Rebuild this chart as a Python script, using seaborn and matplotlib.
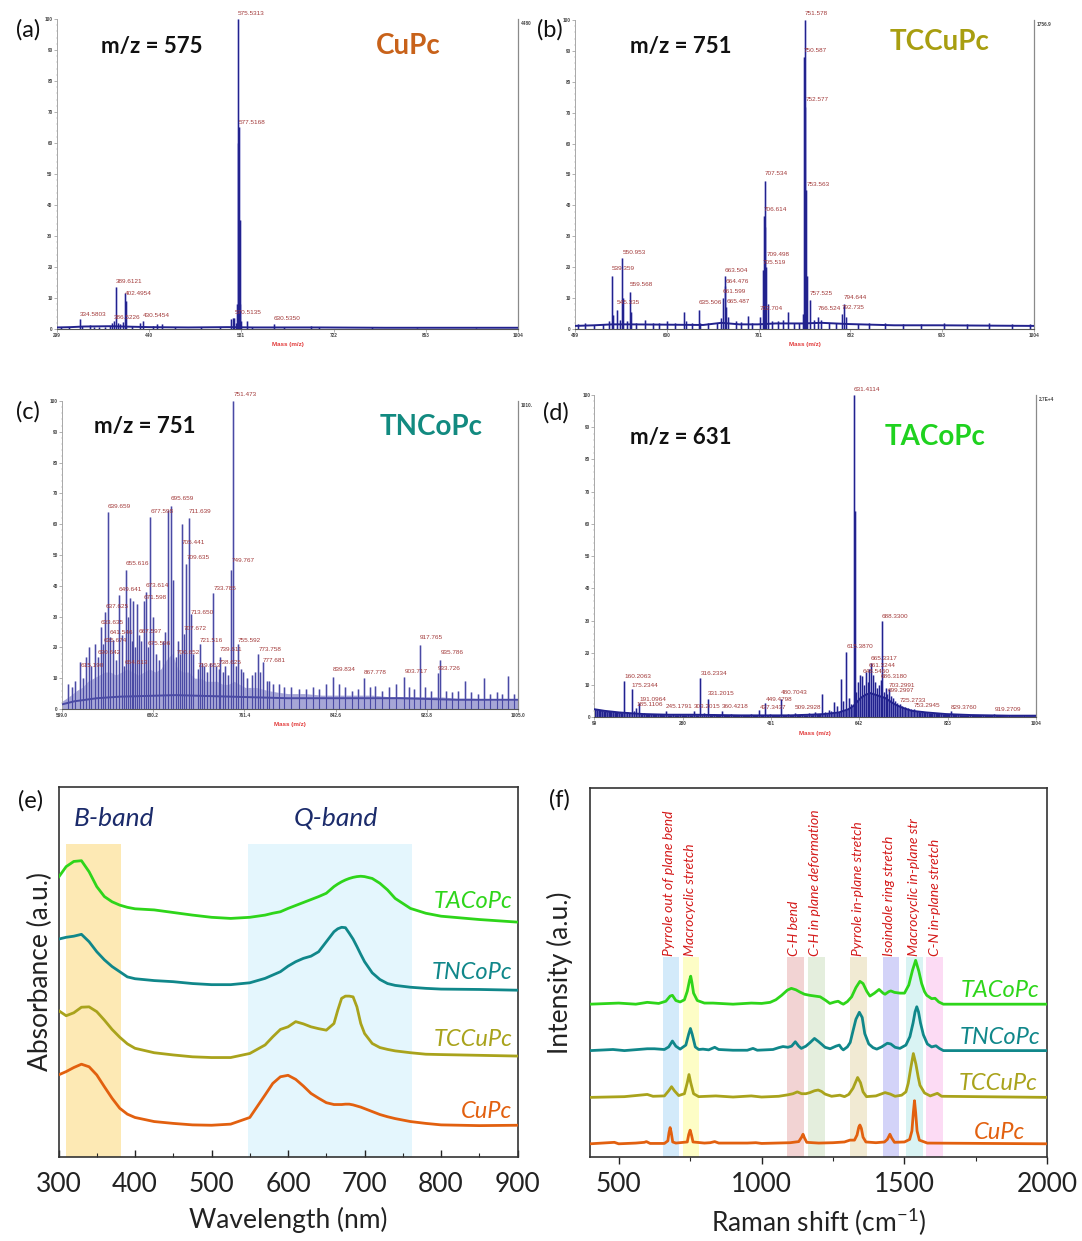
import numpy as np
import pandas as pd
import matplotlib
matplotlib.use("Agg")
import matplotlib.pyplot as plt
import seaborn as sns

sns.set_theme(style="white")
plt.rcParams['font.family'] = ['Lato', 'DejaVu Sans']
plt.rcParams['mathtext.default'] = 'regular'

W, H = 1082, 1241
fig = plt.figure(figsize=(W / 100, H / 100), dpi=100)


def fx(x):
    return x / W


def fy(y):
    return 1 - y / H


def axes_px(left, top, right, bottom):
    return fig.add_axes([left / W, 1 - bottom / H, (right - left) / W, (bottom - top) / H])


# ---------------------------------------------------------------- mass spectra data
ms_a_peaks = [(305.2, 0.8), (318.4, 0.6), (334.5803, 3.2), (338.0, 1.0), (349.5, 1.2), (356.0, 0.6),
              (364.0, 0.7), (372.0, 0.8), (380.5, 1.0), (384.0, 1.8), (386.5226, 2.5), (389.6121, 13.5),
              (392.0, 2.0), (396.0, 1.5), (399.5, 2.2), (402.4954, 11.6), (404.0, 9.0), (414.0, 1.0),
              (426.0, 1.8), (430.5454, 2.5), (446.0, 1.0), (452.0, 1.5), (459.5, 1.6), (480.0, 0.6),
              (520.0, 0.5), (548.0, 0.5), (565.5, 3.2), (568.0, 3.6), (570.5135, 3.4), (573.2, 2.0),
              (574.4, 8.0), (575.5313, 100.0), (576.5, 60.0), (577.5168, 65.0), (578.5, 35.0),
              (579.5, 8.0), (580.6, 2.5), (590.3, 2.5), (598.0, 0.8), (630.5350, 1.6), (646.0, 0.6),
              (688.0, 0.9), (700.0, 0.5), (780.0, 0.5), (850.0, 0.4), (940.0, 0.4)]
ms_a_base_mz = [299, 320, 340, 380, 400, 440, 500, 560, 600, 700, 800, 900, 1004]
ms_a_base_int = [0.5, 0.6, 0.8, 0.9, 0.8, 0.6, 0.5, 0.6, 0.5, 0.5, 0.4, 0.4, 0.4]
ms_a_labels = ['334.5803', '389.6121', '386.5226', '402.4954', '430.5454',
               '575.5313', '577.5168', '570.5135', '630.5350']
ms_a_label_y = [3.5, 14.2, 2.6, 10.2, 3.0, 100.5, 65.5, 4.2, 2.2]
ms_a_ticks = [299, 440, 581, 722, 863, 1004]

ms_b_peaks = [(502, 1.5), (510, 1.8), (520, 1.2), (530, 1.6), (536.5, 2.5), (539.359, 17.0), (541, 4.5),
              (545.335, 6.0), (548, 3.0), (550.953, 23.0), (552, 10.0), (556, 2.5), (559.568, 12.0),
              (561, 5.5), (566, 2.0), (576.0, 3.0), (585, 2.0), (591, 2.0), (600.5, 2.5), (609, 2.0),
              (618.7, 5.5), (621, 2.5), (628, 2.0), (635.506, 6.0), (637, 2.0), (645, 2.0), (655, 2.0),
              (659.5, 3.5), (661.599, 10.0), (663.504, 17.0), (664.476, 14.0), (665.487, 7.0), (667, 4.0),
              (676, 2.5), (682, 2.2), (689.2, 4.2), (694, 2.0), (702.704, 4.0), (705.519, 19.0),
              (706.614, 36.5), (707.534, 48.0), (708.5, 33.0), (709.498, 20.0), (711, 8.0), (716, 2.5),
              (722, 2.5), (728, 3.0), (733.3, 5.5), (740, 2.0), (745, 2.0), (749.6, 5.0), (750.587, 88.0),
              (751.578, 100.0), (752.577, 72.0), (753.563, 45.0), (754.5, 17.0), (757.525, 9.5), (762, 3.0),
              (766.524, 4.0), (770, 3.0), (778, 2.0), (786, 2.0), (792.735, 5.0), (794.644, 8.0), (797, 4.0),
              (810, 1.5), (822, 2.0), (840, 1.8), (860, 1.5), (880, 1.5), (905, 1.8), (930, 1.6),
              (955, 1.8), (980, 1.5), (1000, 1.5)]
ms_b_base_mz = [499, 520, 540, 560, 600, 640, 660, 680, 700, 720, 750, 770, 800, 850, 900, 950, 1004]
ms_b_base_int = [1.0, 1.2, 1.5, 1.5, 1.4, 1.3, 2.0, 1.5, 1.5, 1.8, 1.8, 2.0, 1.6, 1.2, 1.2, 1.1, 1.0]
ms_b_labels = ['539.359', '545.335', '550.953', '559.568', '635.506', '661.599', '663.504', '664.476',
               '665.487', '702.704', '705.519', '706.614', '707.534', '709.498', '750.587', '751.578',
               '752.577', '753.563', '757.525', '766.524', '792.735', '794.644']
ms_b_label_y = [18.3, 7.3, 23.5, 13.3, 7.3, 11.0, 17.7, 14.1, 7.7, 5.4, 20.3, 37.6, 49.0, 23.0,
                89.0, 101.0, 73.0, 45.6, 10.4, 5.4, 5.7, 8.9]
ms_b_ticks = [499, 600, 701, 802, 903, 1004]

ms_c_peaks = [(604, 8), (608, 7), (611, 9), (615.190, 15.4), (618, 10), (620.5, 17), (622.7, 20), (625, 14),
              (628.6, 21), (630.642, 17), (633.635, 26.7), (635.674, 21), (637.625, 31.6), (639.659, 64),
              (641.546, 23.5), (644.7, 22.4), (647, 16), (649.641, 37), (652, 24), (654.613, 14),
              (655.616, 45), (657.5, 30), (659.5, 36), (661, 22), (662.5, 35), (664, 20), (665.5, 34),
              (667.597, 24), (669.3, 22), (671.598, 35), (673.614, 38), (675.596, 20), (677.598, 62.4),
              (680.3, 30), (682.7, 18), (685.5, 16), (688.6, 22), (690.5, 25), (693.0, 64.6), (695.659, 66),
              (698.0, 42), (700.652, 17), (702.0, 22), (704.0, 18), (705.441, 60), (707.672, 24.5),
              (709.635, 47), (711.639, 62), (713.650, 31), (715.5, 18), (719.653, 13), (721.516, 21),
              (723.5, 15), (725.6, 14), (728, 12), (731, 15), (733.785, 37.6), (736, 14), (738.625, 13),
              (739.611, 17), (742, 12), (744.3, 14), (747, 11), (749.767, 45), (751.473, 100), (753.5, 14),
              (755.592, 21), (758, 13), (760, 12), (764, 10), (768, 11), (770.5, 12), (773.758, 18),
              (775.5, 12), (777.681, 15.4), (781, 9), (783.5, 9), (787, 8), (792, 8), (797, 7), (803, 7),
              (810, 6.5), (816, 6.5), (822, 7), (828, 6.5), (834, 8), (839.834, 10.5), (845.5, 8), (851, 7),
              (857, 6), (862, 6.5), (867.778, 10), (873, 7), (878, 7.5), (884, 6), (890, 7), (896, 8),
              (903.717, 10.5), (908, 7), (912, 6.5), (917.765, 20.8), (922, 7), (927, 6), (933.726, 11.7),
              (935.786, 15.9), (941, 6), (946, 5.5), (951, 6), (957.6, 9), (963, 5.5), (969, 5),
              (974.4, 10), (980, 5), (986, 5.5), (991, 5), (996, 10.7), (1001, 5)]
ms_c_grass_mz = [599, 603, 607, 612, 617, 622, 627, 632, 637, 642, 647, 652, 657, 662, 667, 672, 677, 682,
                 687, 692, 697, 702, 707, 712, 717, 722, 727, 732, 737, 742, 747, 752, 757, 762, 767, 772,
                 777, 782, 790, 800, 815, 830, 845, 860, 875, 890, 905, 920, 935, 950, 965, 980, 995, 1005]
ms_c_grass_int = [2.5, 3.5, 4.5, 6, 7, 9, 10, 11, 12, 12, 11, 12, 13, 12, 11, 12, 13, 12, 13, 16, 18, 13,
                  12, 12, 10, 10, 9, 9, 9, 8, 8, 9, 8, 7, 7, 7, 6.5, 6, 5.5, 5, 5, 4.5, 4.5, 4.5, 4.5, 4,
                  4, 4, 4, 3.5, 3.5, 3, 3, 3]
ms_c_floor_mz = [599, 610, 630, 650, 700, 750, 800, 850, 900, 950, 1005]
ms_c_floor_int = [1.5, 2.5, 3.5, 4.0, 4.5, 4.0, 3.5, 3.5, 3.5, 3.0, 3.0]
ms_c_labels = ['615.190', '630.642', '633.635', '635.674', '637.625', '639.659', '641.546', '649.641',
               '654.613', '655.616', '667.597', '671.598', '673.614', '675.596', '677.598', '695.659',
               '700.652', '705.441', '707.672', '709.635', '711.639', '713.650', '719.653', '721.516',
               '733.785', '738.625', '739.611', '749.767', '751.473', '755.592', '773.758', '777.681',
               '839.834', '867.778', '903.717', '917.765', '933.726', '935.786']
ms_c_label_y = [13.0, 17.0, 27.0, 21.0, 32.0, 64.5, 23.5, 37.5, 14.0, 46.0, 24.0, 35.0, 39.0, 20.0,
                63.0, 67.0, 17.0, 53.0, 25.0, 48.0, 63.0, 30.0, 13.0, 21.0, 38.0, 14.0, 18.0, 47.0,
                101.0, 21.0, 18.0, 14.5, 11.5, 10.5, 11.0, 22.0, 12.0, 17.0]
ms_c_ticks = [599.0, 680.2, 761.4, 842.6, 923.8, 1005.0]

ms_d_peaks = [(105, 2.2), (115, 2.0), (125, 1.6), (138, 2.0), (150, 1.4), (160.2063, 11.3), (165, 1.6),
              (170, 1.2), (175.2344, 8.8), (181, 1.8), (185.1106, 2.8), (191.0964, 4.3), (200, 1.2),
              (215, 1.0), (230, 1.0), (245.1791, 1.8), (260, 1.0), (275, 0.9), (290, 1.0), (303.2015, 1.8),
              (316.2334, 12.3), (324, 1.2), (331.2015, 5.7), (345, 1.0), (360.4218, 1.8), (380, 0.9),
              (400, 0.8), (420, 1.0), (437.3437, 2.3), (449.4798, 4.5), (460, 1.0), (480.7043, 5.6),
              (495, 0.9), (509.2928, 1.2), (525, 1.0), (540, 1.2), (552, 1.6), (566, 7.2), (572, 1.5),
              (579, 2.3), (585, 2.0), (590.5, 4.8), (597, 3.5), (603.6, 11.9), (609, 5.0), (615.3870, 20.4),
              (621, 6.0), (626, 4.0), (631.4114, 100.0), (632.6, 64.0), (636, 8), (640, 11), (644, 13),
              (648.5460, 12.9), (652, 10), (656, 14), (659, 11), (661.3244, 14.9), (665.3317, 16.8),
              (670, 13), (674, 11), (678, 9), (683, 10), (686.3180, 11.6), (688.3300, 30.0), (692, 8),
              (696, 9), (699.2997, 7.2), (703.2991, 8.8), (707, 6.5), (711, 6), (715, 5), (720, 4.5),
              (725.2733, 4.0), (730, 3.5), (736, 3.2), (742, 2.8), (748, 2.5), (753.2945, 2.6), (760, 2.0),
              (770, 1.8), (780, 1.6), (795, 1.4), (810, 1.2), (829.3760, 2.0), (845, 1.0), (870, 0.8),
              (895, 0.8), (919.2709, 1.0), (950, 0.6), (980, 0.6)]
ms_d_base_mz = [99, 120, 150, 200, 250, 300, 350, 400, 450, 500, 540, 570, 600, 620, 630, 636, 645, 655,
                665, 675, 685, 695, 705, 715, 730, 750, 780, 820, 870, 950, 1004]
ms_d_base_int = [2.5, 2.0, 1.5, 1.0, 0.8, 0.8, 0.7, 0.6, 0.6, 0.6, 0.8, 1.0, 1.5, 2.5, 3.5, 4.5, 6, 7,
                 7.5, 7, 6.5, 6, 5, 4, 3, 2, 1.5, 1.0, 0.7, 0.5, 0.5]
ms_d_labels = ['160.2063', '175.2344', '185.1106', '191.0964', '245.1791', '303.2015', '316.2334',
               '331.2015', '360.4218', '437.3437', '449.4798', '480.7043', '509.2928', '615.3870',
               '631.4114', '648.5460', '661.3244', '665.3317', '686.3180', '688.3300', '699.2997',
               '703.2991', '725.2733', '753.2945', '829.3760', '919.2709']
ms_d_label_y = [11.6, 8.8, 2.8, 4.3, 2.3, 2.1, 12.3, 6.2, 2.3, 2.0, 4.3, 6.4, 1.8, 20.9, 100.5, 13.0,
                14.9, 17.0, 11.6, 30.0, 7.2, 8.7, 4.1, 2.6, 2.0, 1.2]
ms_d_ticks = [99, 280, 461, 642, 823, 1004]

# ---------------------------------------------------------------- UV-vis data (absorbance, a.u.)
uv_nm = [300, 310, 320, 330, 340, 350, 360, 370, 380, 390, 400, 425, 450, 475, 500, 525, 550, 570, 580,
         590, 600, 610, 620, 630, 640, 650, 660, 665, 670, 675, 680, 685, 690, 695, 700, 710, 720, 730,
         740, 760, 780, 800, 850, 900]
uv_tacopc = [75.5, 78.4, 79.8, 80.0, 77.0, 73.0, 70.3, 68.9, 68.0, 67.4, 67.0, 66.7, 66.0, 65.3, 64.7,
             64.4, 64.7, 65.3, 65.8, 66.2, 67.1, 67.9, 68.7, 69.5, 70.3, 71.2, 73.0, 73.7, 74.3, 74.8,
             75.2, 75.5, 75.7, 75.8, 75.7, 75.2, 73.9, 72.1, 69.8, 67.1, 65.8, 65.0, 64.1, 63.4]
uv_tncopc = [58.8, 59.3, 59.6, 60.1, 58.1, 55.4, 53.2, 51.4, 50.0, 48.6, 48.1, 47.6, 47.3, 46.8, 46.5,
             46.5, 47.0, 48.2, 49.1, 50.0, 51.5, 52.7, 53.6, 54.2, 55.4, 58.1, 60.8, 61.6, 62.0, 61.9,
             60.4, 58.8, 56.8, 54.7, 52.7, 49.7, 47.9, 46.8, 46.3, 45.8, 45.5, 45.3, 45.2, 45.0]
uv_tccupc = [39.5, 38.1, 38.9, 40.4, 40.5, 39.2, 36.9, 34.4, 32.3, 30.5, 29.3, 28.1, 27.5, 27.0, 26.8,
             26.8, 27.9, 30.2, 32.4, 34.4, 35.1, 36.5, 35.9, 35.1, 34.6, 34.2, 36.0, 39.6, 42.8, 43.4,
             43.4, 43.2, 40.5, 36.0, 33.3, 30.6, 29.5, 29.0, 28.6, 28.1, 27.7, 27.6, 27.4, 27.2]
uv_cupc = [22.1, 23.0, 24.1, 25.0, 24.3, 22.1, 18.9, 15.8, 13.1, 11.5, 10.6, 9.5, 9.0, 8.6, 8.5, 8.8,
           10.6, 16.7, 19.8, 21.6, 22.0, 20.9, 19.1, 17.1, 15.8, 14.6, 14.1, 14.1, 14.1, 14.2, 14.2,
           14.0, 13.7, 13.4, 13.0, 12.2, 11.4, 10.8, 10.3, 9.5, 9.0, 8.6, 8.4, 8.5]

# ---------------------------------------------------------------- Raman data (cm-1, intensity a.u.)
raman_tacopc = [(400, 0), (500, 0.3), (560, 0), (600, 0.5), (640, 0.2), (665, 0.8), (680, 2.2), (688, 2.4),
                (700, 1.0), (715, 0.6), (730, 1.2), (740, 3.5), (748, 6.5), (752, 7.6), (756, 6.0),
                (762, 3.0), (775, 1.0), (800, 0.3), (830, 0.3), (900, 0.0), (964, 0.3), (1000, 0.2),
                (1030, 0.5), (1050, 1.2), (1070, 2.4), (1090, 3.8), (1104, 4.3), (1120, 3.9), (1134, 3.3),
                (1150, 2.7), (1169, 2.4), (1187, 2.2), (1205, 2.0), (1225, 1.0), (1239, 0.2), (1256, 0.6),
                (1268, 0.8), (1278, 0.3), (1286, 0.0), (1300, 0.7), (1315, 2.0), (1330, 4.5), (1344, 6.2),
                (1355, 5.6), (1368, 3.5), (1379, 2.2), (1395, 3.0), (1411, 4.0), (1425, 3.0), (1432, 2.7),
                (1445, 3.4), (1452, 3.6), (1465, 3.2), (1484, 3.0), (1500, 3.0), (1515, 5.2), (1528, 9.2),
                (1539, 11.9), (1550, 9.0), (1560, 5.6), (1570, 3.4), (1578, 2.4), (1595, 1.5), (1607, 1.6),
                (1620, 0.6), (1636, 0.0), (1700, 0.0), (2000, 0.0)]
raman_tncopc = [(400, 0), (480, 0.3), (520, 0), (600, 0.5), (625, 0.5), (660, 0.3), (675, 1.0), (688, 2.6),
                (700, 1.2), (715, 0.4), (735, 1.5), (745, 4.5), (751, 6.0), (757, 4.5), (768, 1.0),
                (780, 0.3), (795, 0.4), (815, 0.2), (836, 0.9), (850, 0.3), (900, 0.1), (950, 0.1),
                (970, 0.6), (985, 0.1), (1040, 0.3), (1060, 0.8), (1075, 1.1), (1092, 0.9), (1105, 1.2),
                (1118, 2.4), (1130, 1.2), (1139, 0.6), (1155, 1.2), (1170, 2.2), (1185, 3.3), (1200, 2.4),
                (1212, 1.6), (1222, 0.9), (1240, 0.5), (1260, 1.2), (1272, 1.5), (1280, 0.6), (1286, 0.2),
                (1300, 1.0), (1310, 2.2), (1320, 5.4), (1330, 8.5), (1342, 10.4), (1352, 9.0), (1361, 4.6),
                (1375, 1.8), (1390, 0.8), (1403, 0.4), (1420, 1.0), (1440, 2.0), (1452, 1.8), (1467, 0.9),
                (1484, 0.6), (1505, 1.5), (1519, 3.8), (1530, 7.5), (1537, 10.5), (1543, 11.9),
                (1549, 10.5), (1556, 7.5), (1566, 4.3), (1580, 1.8), (1595, 1.0), (1610, 1.3), (1622, 0.6),
                (1636, 0.0), (2000, 0.0)]
raman_tccupc = [(400, 0), (520, 0.2), (600, 0.8), (620, 0.3), (660, 0.4), (675, 1.8), (685, 2.9),
                (695, 1.8), (710, 0.5), (730, 1.0), (740, 4.0), (746, 6.2), (752, 4.0), (762, 1.0),
                (780, 0.2), (840, 0.4), (900, 0.1), (964, 0.4), (1000, 0.1), (1060, 0.3), (1092, 0.7),
                (1110, 1.0), (1125, 1.5), (1140, 1.0), (1155, 1.0), (1169, 1.3), (1185, 1.8), (1198, 2.0),
                (1210, 1.6), (1222, 0.9), (1245, 0.3), (1274, 0.6), (1290, 0.2), (1305, 0.8), (1320, 2.5),
                (1336, 5.4), (1346, 4.0), (1355, 1.5), (1367, 0.2), (1400, 0.4), (1432, 1.3), (1450, 0.9),
                (1467, 0.3), (1490, 0.6), (1505, 1.5), (1513, 3.8), (1522, 8.0), (1531, 11.9), (1540, 9.0),
                (1548, 5.5), (1554, 3.3), (1570, 1.2), (1590, 0.4), (1615, 1.1), (1630, 0.3), (2000, 0)]
raman_cupc = [(400, 0), (485, 0.4), (500, 0), (560, 0.2), (590, 0.4), (597, 0.6), (610, 0.1), (660, 0.1),
              (672, 0.8), (676, 3.0), (680, 4.4), (684, 3.0), (689, 0.5), (700, 0.2), (740, 0.5),
              (745, 2.5), (750, 3.7), (755, 2.3), (760, 0.5), (800, 0.2), (820, 0.3), (836, 0.6),
              (850, 0.2), (950, 0.2), (980, 0.3), (1000, 0.1), (1100, 0.3), (1130, 0.6), (1140, 1.8),
              (1145, 2.6), (1150, 1.6), (1158, 0.4), (1200, 0.2), (1250, 0.3), (1290, 0.5), (1309, 1.0),
              (1325, 1.0), (1334, 2.4), (1340, 4.5), (1344, 5.1), (1349, 4.2), (1355, 1.8), (1365, 0.5),
              (1400, 0.3), (1430, 0.5), (1440, 1.2), (1449, 2.6), (1455, 1.6), (1465, 0.4), (1500, 0.5),
              (1518, 1.2), (1526, 3.5), (1531, 8.5), (1535, 11.7), (1539, 8.5), (1544, 3.5), (1552, 1.0),
              (1580, 0.2), (2000, 0)]
raman_offsets = [41.4, 28.8, 16.1, 3.5]

raman_band_lo = [655, 724, 1089, 1162, 1309, 1424, 1505, 1575]
raman_band_hi = [711, 781, 1149, 1222, 1369, 1481, 1565, 1635]
raman_band_names = ['Pyrrole out of plane bend', 'Macrocyclic stretch', 'C-H bend',
                    'C-H in plane deformation', 'Pyrrole in-plane stretch', 'Isoindole ring stretch',
                    'Macrocyclic in-plane str', 'C-N in-plane stretch']
raman_band_label_x = [676, 751, 1114, 1186, 1337, 1446, 1533, 1606]

compounds = ['TACoPc', 'TNCoPc', 'TCCuPc', 'CuPc']

# ---------------------------------------------------------------- styles
col = {'TACoPc': '#2ed51a', 'TNCoPc': '#10878a', 'TCCuPc': '#a9a31c', 'CuPc': '#e2600f'}
title_col = {'TACoPc': '#1fd21f', 'TNCoPc': '#128a80', 'TCCuPc': '#a89e10', 'CuPc': '#c8621a'}
band_colors = ['#d3eafa', '#fdfdc6', '#f2d3d3', '#e4eedd', '#f1ead3', '#d3d3f8', '#d9f3f3', '#fcdbf4']
tiny = ['Liberation Sans', 'DejaVu Sans']


def mass_panel(ax, peaks, xlim, ticks, tick_labels, top_label, labels, label_y,
               base_mz=None, base_int=None, grass_mz=None, grass_int=None,
               core='#22228e', halo='#8c8cd2', fill_base=False):
    mz = [p[0] for p in peaks]
    inten = [p[1] for p in peaks]
    ax.set_xlim(*xlim)
    ax.set_ylim(0, 100)
    if grass_mz is not None:
        ax.fill_between(grass_mz, 0, grass_int, color='#a6a6d6', lw=0, zorder=1)
    if base_mz is not None:
        if fill_base:
            ax.fill_between(base_mz, 0, base_int, color=core, lw=0, zorder=2)
        sns.lineplot(x=base_mz, y=base_int, ax=ax, color=core, lw=1.4, zorder=3)
    ax.vlines(mz, 0, inten, color=halo, lw=2.0, alpha=0.55, zorder=2)
    ax.vlines(mz, 0, inten, color=core, lw=0.8, zorder=3)
    for txt, yv in zip(labels, label_y):
        ax.text(float(txt), yv + 0.4, txt, fontsize=4.6, color='#a23a3a', ha='left', va='bottom',
                family=tiny, zorder=5)
    ax.spines['top'].set_visible(False)
    ax.spines['left'].set_color('#9a9a9a')
    ax.spines['left'].set_linewidth(0.6)
    ax.spines['bottom'].set_color('#555555')
    ax.spines['bottom'].set_linewidth(0.8)
    ax.spines['right'].set_color('#8a8a8a')
    ax.spines['right'].set_linewidth(0.9)
    ax.set_yticks(range(0, 101, 10))
    ax.set_yticklabels([str(v) for v in range(0, 101, 10)], fontsize=3.4, fontweight='bold',
                       color='#444444', family=tiny)
    ax.set_yticks(range(0, 101, 2), minor=True)
    ax.set_xticks(ticks)
    ax.set_xticklabels(tick_labels, fontsize=3.4, fontweight='bold', color='#444444', family=tiny)
    ax.tick_params(axis='both', which='major', length=2, width=0.4, pad=1, color='#777777',
                   bottom=True, left=True)
    ax.tick_params(axis='y', which='minor', length=1, width=0.3, color='#999999', left=True)
    ax.set_xlabel('Mass (m/z)', fontsize=4.5, fontweight='bold', color='#e23a3a', labelpad=3,
                  family=tiny)
    ax.set_ylabel('')
    ax.text(1.006, 0.985, top_label, transform=ax.transAxes, fontsize=3.4, fontweight='bold',
            color='#444444', ha='left', va='center', family=tiny)
    ax.patch.set_alpha(0)


# (a) CuPc
ax_a = axes_px(56.8, 19, 518.2, 329)
mass_panel(ax_a, ms_a_peaks, (299, 1004), ms_a_ticks, [str(t) for t in ms_a_ticks], '4480',
           ms_a_labels, ms_a_label_y, base_mz=ms_a_base_mz, base_int=ms_a_base_int)
# (b) TCCuPc
ax_b = axes_px(575, 20, 1034, 329)
mass_panel(ax_b, ms_b_peaks, (499, 1004), ms_b_ticks, [str(t) for t in ms_b_ticks], '1756.9',
           ms_b_labels, ms_b_label_y, base_mz=ms_b_base_mz, base_int=ms_b_base_int)
# (c) TNCoPc
ax_c = axes_px(62, 401, 518.2, 709)
mass_panel(ax_c, ms_c_peaks, (599.0, 1005.0), ms_c_ticks, ['%.1f' % t for t in ms_c_ticks], '1010.',
           ms_c_labels, ms_c_label_y, base_mz=ms_c_floor_mz, base_int=ms_c_floor_int,
           grass_mz=ms_c_grass_mz, grass_int=ms_c_grass_int, core='#4a4aa4', halo='#a4a4d8')
# (d) TACoPc
ax_d = axes_px(594.4, 395, 1035.8, 717.3)
mass_panel(ax_d, ms_d_peaks, (99, 1004), ms_d_ticks, [str(t) for t in ms_d_ticks], '2.7E+4',
           ms_d_labels, ms_d_label_y, base_mz=ms_d_base_mz, base_int=ms_d_base_int, fill_base=True)

# panel titles for the mass spectra
for lab, (x, y) in zip(['(a)', '(b)', '(c)', '(d)'], [(28, 30), (550, 30), (28, 412), (556, 413)]):
    fig.text(fx(x), fy(y), lab, fontsize=17, ha='center', va='center', color='#111111')
for txt, (x, y) in zip(['m/z = 575', 'm/z = 751', 'm/z = 751', 'm/z = 631'],
                       [(152, 46), (681, 46), (145, 427), (681, 437)]):
    fig.text(fx(x), fy(y), txt, fontsize=16, fontweight='bold', ha='center', va='center', color='#111111')
for name, (x, y) in zip(['CuPc', 'TCCuPc', 'TNCoPc', 'TACoPc'],
                        [(408, 46), (940, 42), (431, 427), (935, 437)]):
    fig.text(fx(x), fy(y), name, fontsize=20, fontweight='bold', ha='center', va='center',
             color=title_col[name])

# ---------------------------------------------------------------- (e) UV-vis
ax_e = axes_px(58.5, 786.7, 517.6, 1156.7)
ax_e.axvspan(310, 382, ymin=0, ymax=0.845, color='#fde9b4', lw=0, zorder=0)
ax_e.axvspan(548, 762, ymin=0, ymax=0.845, color='#e4f6fd', lw=0, zorder=0)
uv_df = pd.DataFrame({'nm': uv_nm * 4,
                      'abs': uv_tacopc + uv_tncopc + uv_tccupc + uv_cupc,
                      'sample': sum([[c] * len(uv_nm) for c in compounds], [])})
sns.lineplot(data=uv_df, x='nm', y='abs', hue='sample', palette=col, lw=2.0, ax=ax_e,
             legend=False, estimator=None, sort=False, zorder=3)
ax_e.set_xlim(300, 900)
ax_e.set_ylim(0, 100)
ax_e.set_xticks(range(300, 901, 100))
ax_e.set_xticks(range(350, 900, 100), minor=True)
ax_e.set_yticks([])
ax_e.tick_params(axis='x', which='major', direction='in', length=5, width=1.0, labelsize=19,
                 pad=11, colors='#222222', bottom=True)
ax_e.tick_params(axis='x', which='minor', direction='in', length=3, width=0.8, bottom=True)
ax_e.set_xlabel('Wavelength (nm)', fontsize=19, color='#222222', labelpad=7)
ax_e.set_ylabel('Absorbance (a.u.)', fontsize=19, color='#222222', labelpad=4)
for s in ax_e.spines.values():
    s.set_color('#333333')
    s.set_linewidth(1.2)
ax_e.text(372, 91.5, 'B-band', fontsize=19, style='italic', color='#1b2b6b', ha='center', va='center')
ax_e.text(663, 91.5, 'Q-band', fontsize=19, style='italic', color='#1b2b6b', ha='center', va='center')
for name, yv in zip(compounds, [69.0, 49.8, 31.7, 12.2]):
    ax_e.text(893, yv, name, fontsize=17, style='italic', color=col[name], ha='right', va='center')
fig.text(fx(31), fy(801), '(e)', fontsize=17, ha='center', va='center', color='#111111')

# ---------------------------------------------------------------- (f) Raman
ax_f = axes_px(590.1, 788.3, 1047.4, 1156.7)
for lo, hi, c in zip(raman_band_lo, raman_band_hi, band_colors):
    ax_f.axvspan(lo, hi, ymin=0, ymax=0.541, color=c, lw=0, zorder=0)
raman_rows = []
for name, spec, off in zip(compounds, [raman_tacopc, raman_tncopc, raman_tccupc, raman_cupc],
                           raman_offsets):
    for shift, val in spec:
        raman_rows.append((name, shift, val + off))
raman_df = pd.DataFrame(raman_rows, columns=['sample', 'shift', 'intensity'])
sns.lineplot(data=raman_df, x='shift', y='intensity', hue='sample', palette=col, lw=2.0, ax=ax_f,
             legend=False, estimator=None, sort=False, zorder=3)
ax_f.set_xlim(400, 2000)
ax_f.set_ylim(0, 100)
ax_f.set_xticks([500, 1000, 1500, 2000])
ax_f.set_xticks([750, 1250, 1750], minor=True)
ax_f.set_yticks([])
ax_f.tick_params(axis='x', which='major', direction='out', length=5, width=1.0, labelsize=19,
                 pad=6, colors='#222222', bottom=True)
ax_f.tick_params(axis='x', which='minor', direction='out', length=3, width=0.8, bottom=True)
ax_f.set_xlabel('Raman shift (cm$^{-1}$)', fontsize=19, color='#222222', labelpad=7)
ax_f.set_ylabel('Intensity (a.u.)', fontsize=19, color='#222222', labelpad=12)
for s in ax_f.spines.values():
    s.set_color('#333333')
    s.set_linewidth(1.2)
for name, xl in zip(raman_band_names, raman_band_label_x):
    ax_f.text(xl, 54.6, name, rotation=90, fontsize=10, style='italic', color='#d41a1a',
              ha='center', va='bottom')
for name, (xv, yv) in zip(compounds, [(1834, 45.0), (1834, 32.3), (1827, 19.8), (1831, 6.7)]):
    ax_f.text(xv, yv, name, fontsize=17, style='italic', color=col[name], ha='center', va='center')
fig.text(fx(559), fy(800), '(f)', fontsize=17, ha='center', va='center', color='#111111')

fig.savefig('out.png', dpi=100)
